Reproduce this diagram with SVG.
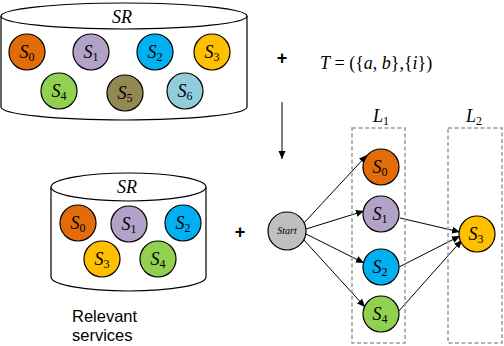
<svg xmlns="http://www.w3.org/2000/svg" width="504" height="346" viewBox="0 0 504 346">
<style>
.cyl{fill:#fff;stroke:#000;stroke-width:1.2}
.n{stroke:#000;stroke-width:1.2}
.lbl{font-family:"Liberation Serif",serif;font-style:italic;font-size:18px;fill:#000;text-anchor:middle}
.sub{font-style:normal;font-size:12px}
.box{fill:none;stroke:#999;stroke-width:1.5;stroke-dasharray:4 2.5}
.edge{stroke:#000;stroke-width:1;fill:none;marker-end:url(#ah)}
.plus{font-family:"Liberation Sans",sans-serif;font-size:18px;font-weight:bold;text-anchor:middle}
.txt{font-family:"Liberation Sans",sans-serif;font-size:16.5px;fill:#000}
</style>
<defs>
<marker id="ah" markerWidth="9" markerHeight="9" refX="8" refY="4.5" orient="auto" markerUnits="userSpaceOnUse">
<path d="M0,1 L8,4.5 L0,8 z" fill="#000"/>
</marker>
</defs>

<g id="repo-top">
<path class="cyl" d="M1,16 L1,107 A123,13 0 0 0 247,107 L247,16"/>
<ellipse class="cyl" cx="124" cy="16" rx="123" ry="13"/>
<text class="lbl" x="122" y="23">SR</text>
</g>
<g id="t-s0"><circle class="n" cx="27" cy="52" r="18" fill="#E36C0A"/><text class="lbl" x="27" y="58">S<tspan class="sub" dy="3">0</tspan></text></g>
<g id="t-s1"><circle class="n" cx="91" cy="52" r="18" fill="#B2A2C7"/><text class="lbl" x="91" y="58">S<tspan class="sub" dy="3">1</tspan></text></g>
<g id="t-s2"><circle class="n" cx="155" cy="52" r="18" fill="#00B0F0"/><text class="lbl" x="155" y="58">S<tspan class="sub" dy="3">2</tspan></text></g>
<g id="t-s3"><circle class="n" cx="212" cy="52" r="18" fill="#FFC000"/><text class="lbl" x="212" y="58">S<tspan class="sub" dy="3">3</tspan></text></g>
<g id="t-s4"><circle class="n" cx="59" cy="91" r="18" fill="#92D050"/><text class="lbl" x="59" y="97">S<tspan class="sub" dy="3">4</tspan></text></g>
<g id="t-s5"><circle class="n" cx="125" cy="93" r="18" fill="#938953"/><text class="lbl" x="125" y="99">S<tspan class="sub" dy="3">5</tspan></text></g>
<g id="t-s6"><circle class="n" cx="185" cy="91" r="18" fill="#92CDDC"/><text class="lbl" x="185" y="97">S<tspan class="sub" dy="3">6</tspan></text></g>

<text class="plus" x="282" y="64">+</text>
<text x="320" y="69" style="font-family:'Liberation Serif',serif;font-size:18px"><tspan font-style="italic">T</tspan> = ({<tspan font-style="italic">a</tspan>, <tspan font-style="italic">b</tspan>},{<tspan font-style="italic">i</tspan>})</text>

<g id="connectors">
<line class="edge" x1="303" y1="224" x2="367" y2="155"/>
<line class="edge" x1="306" y1="229" x2="364" y2="211"/>
<line class="edge" x1="306" y1="234" x2="364" y2="263"/>
<line class="edge" x1="303" y1="239" x2="365" y2="307"/>
<line class="edge" x1="400" y1="218" x2="460" y2="232"/>
<line class="edge" x1="399" y1="267" x2="460" y2="236"/>
<line class="edge" x1="398" y1="312" x2="462" y2="240"/>
<line class="edge" x1="282" y1="102" x2="282" y2="159"/>
</g>

<g id="layer1">
<rect class="box" x="352" y="128" width="53" height="215"/>
<text class="lbl" x="381" y="122">L<tspan class="sub" dy="3">1</tspan></text>
</g>
<g id="layer2">
<rect class="box" x="448" y="128" width="54" height="215"/>
<text class="lbl" x="474" y="122">L<tspan class="sub" dy="3">2</tspan></text>
</g>

<g id="start"><circle class="n" cx="287" cy="231" r="19" fill="#BFBFBF"/><text class="lbl" x="287" y="234" style="font-size:10px">Start</text></g>
<g id="g-s0"><circle class="n" cx="381" cy="167" r="18" fill="#E36C0A"/><text class="lbl" x="380" y="173">S<tspan class="sub" dy="3">0</tspan></text></g>
<g id="g-s1"><circle class="n" cx="381" cy="214" r="18" fill="#B2A2C7"/><text class="lbl" x="380" y="220">S<tspan class="sub" dy="3">1</tspan></text></g>
<g id="g-s2"><circle class="n" cx="381" cy="267" r="18" fill="#00B0F0"/><text class="lbl" x="380" y="273">S<tspan class="sub" dy="3">2</tspan></text></g>
<g id="g-s4"><circle class="n" cx="381" cy="314" r="18" fill="#92D050"/><text class="lbl" x="380" y="320">S<tspan class="sub" dy="3">4</tspan></text></g>
<g id="g-s3"><circle class="n" cx="477" cy="234" r="18" fill="#FFC000"/><text class="lbl" x="476" y="240">S<tspan class="sub" dy="3">3</tspan></text></g>

<g id="repo-bottom">
<path class="cyl" d="M51,187 L51,277 A77.5,14 0 0 0 206,277 L206,187"/>
<ellipse class="cyl" cx="128.5" cy="187" rx="77.5" ry="14"/>
<text class="lbl" x="127" y="193">SR</text>
</g>
<g id="b-s0"><circle class="n" cx="78" cy="223" r="18" fill="#E36C0A"/><text class="lbl" x="78" y="229">S<tspan class="sub" dy="3">0</tspan></text></g>
<g id="b-s1"><circle class="n" cx="129" cy="224" r="18" fill="#B2A2C7"/><text class="lbl" x="129" y="230">S<tspan class="sub" dy="3">1</tspan></text></g>
<g id="b-s2"><circle class="n" cx="183" cy="223" r="18" fill="#00B0F0"/><text class="lbl" x="183" y="229">S<tspan class="sub" dy="3">2</tspan></text></g>
<g id="b-s3"><circle class="n" cx="102" cy="259" r="18" fill="#FFC000"/><text class="lbl" x="102" y="265">S<tspan class="sub" dy="3">3</tspan></text></g>
<g id="b-s4"><circle class="n" cx="158" cy="259" r="18" fill="#92D050"/><text class="lbl" x="158" y="265">S<tspan class="sub" dy="3">4</tspan></text></g>

<text class="plus" x="240" y="238">+</text>
<text class="txt" x="72" y="322">Relevant</text>
<text class="txt" x="72" y="341">services</text>
</svg>
